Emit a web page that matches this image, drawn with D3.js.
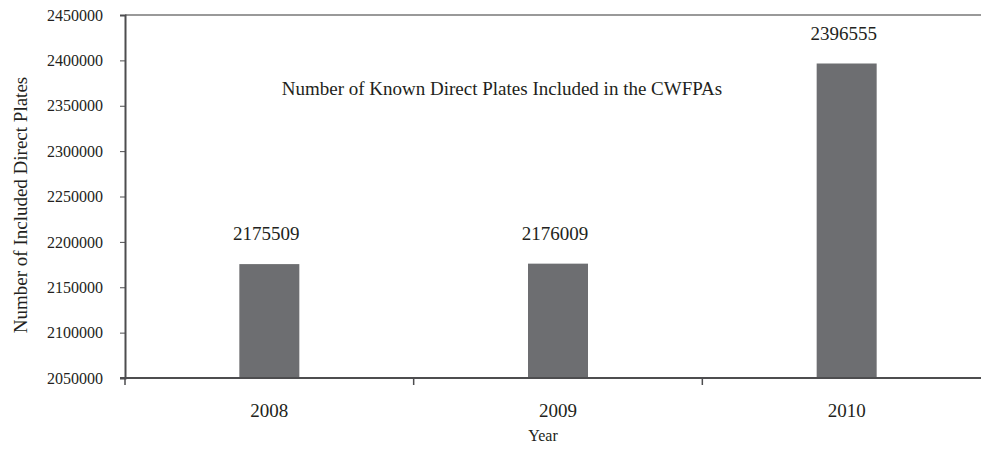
<!DOCTYPE html>
<html>
<head>
<meta charset="utf-8">
<script src="https://cdn.jsdelivr.net/npm/d3@7"></script>
<style>
  body { margin: 0; background: #fff; }
  svg text { font-family: "Liberation Serif", "Times New Roman", serif !important; fill: #231f20; }
  .axis path, .axis line { stroke: #4d4d4f; }
</style>
</head>
<body>
<div id="chart"></div>
<script>
// Chart data
const years = ['2008', '2009', '2010']
const plates = [2175509, 2176009, 2396555]
const yTicks = [2050000, 2100000, 2150000, 2200000, 2250000, 2300000, 2350000, 2400000, 2450000]

const width = 981,
      height = 454

// Plot box
let margin = { top: 15, left: 125, bottom: 378, right: 991 }

let svg = d3.select('#chart').append('svg')
    .attr('width', width)
    .attr('height', height)

let xScale = d3.scaleBand()
    .domain(years)
    .range([margin.left, margin.right])

let yScale = d3.scaleLinear()
    .domain([2050000, 2450000])
    .range([margin.bottom, margin.top])

// Top frame line
svg.append('line')
  .attr('x1', margin.left)
  .attr('x2', width)
  .attr('y1', margin.top)
  .attr('y2', margin.top)
  .attr('stroke', '#999')
  .attr('stroke-width', 2)

// Y axis
let yAxis = d3.axisLeft(yScale)
    .tickValues(yTicks)
    .tickFormat(d3.format('d'))
    .tickSize(5)
    .tickPadding(17)

let gy = svg.append('g')
  .attr('class', 'axis axis-y')
  .attr('transform', 'translate(' + margin.left + ',0)')
  .call(yAxis)
  .attr('font-family', null)
  .attr('font-size', null)
gy.select('.domain').attr('stroke-width', 2)
gy.selectAll('text').style('font-size', '16px')

// Bars
let barW = 60
svg.selectAll('.bar')
  .data(plates)
  .enter().append('rect')
  .attr('class', 'bar')
  .attr('x', (d, i) => xScale(years[i]) + xScale.bandwidth() / 2 - barW / 2)
  .attr('y', d => yScale(d))
  .attr('width', barW)
  .attr('height', d => yScale(2050000) - yScale(d))
  .attr('fill', '#6d6e71')

// Value labels
svg.selectAll('.value')
  .data(plates)
  .enter().append('text')
  .attr('class', 'value')
  .attr('x', (d, i) => xScale(years[i]) + xScale.bandwidth() / 2 - 3)
  .attr('y', d => yScale(d) - 24)
  .attr('text-anchor', 'middle')
  .style('font-size', '19px')
  .text(d => d)

// X axis: ticks at category boundaries
let gx = svg.append('g')
  .attr('class', 'axis axis-x')
  .attr('transform', 'translate(0,' + margin.bottom + ')')
gx.append('line')
  .attr('x1', margin.left - 5)
  .attr('x2', width)
  .attr('stroke-width', 2)
gx.selectAll('.tick-x')
  .data(years)
  .enter().append('line')
  .attr('class', 'tick-x')
  .attr('x1', d => xScale(d))
  .attr('x2', d => xScale(d))
  .attr('y1', 0)
  .attr('y2', 7)
  .attr('stroke-width', 1.5)
gx.selectAll('.label-x')
  .data(years)
  .enter().append('text')
  .attr('class', 'label-x')
  .attr('x', d => xScale(d) + xScale.bandwidth() / 2)
  .attr('y', 39)
  .attr('text-anchor', 'middle')
  .style('font-size', '19px')
  .text(d => d)

// Titles
svg.append('text')
  .attr('x', 502)
  .attr('y', 95)
  .attr('text-anchor', 'middle')
  .style('font-size', '19px')
  .text('Number of Known Direct Plates Included in the CWFPAs')

svg.append('text')
  .attr('x', 543)
  .attr('y', 441)
  .attr('text-anchor', 'middle')
  .style('font-size', '16px')
  .text('Year')

svg.append('text')
  .attr('transform', 'translate(27,205) rotate(-90)')
  .attr('text-anchor', 'middle')
  .style('font-size', '19px')
  .text('Number of Included Direct Plates')
</script>
</body>
</html>
